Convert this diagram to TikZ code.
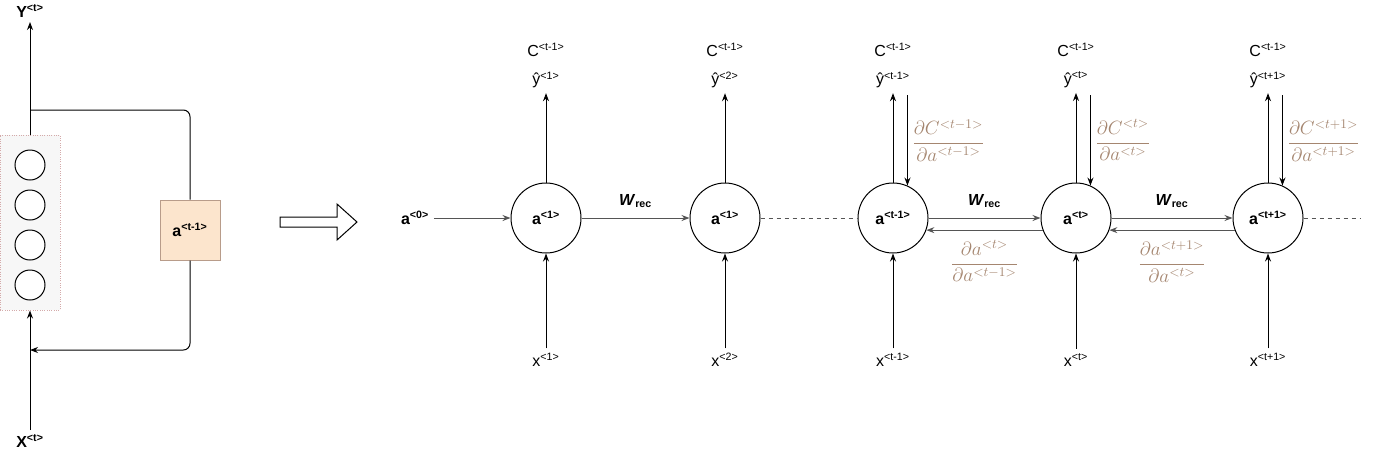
\documentclass[tikz,border=0pt]{standalone}
\usepackage{fontspec}
\setmainfont{Liberation Sans}
\usepackage{tikz}
\usetikzlibrary{arrows.meta}
\usepackage[dvipsnames]{xcolor}
\definecolor{gradtan}{HTML}{A58670}
\definecolor{cellfill}{HTML}{FCE5CD}
\definecolor{celledge}{HTML}{B89C8A}
\definecolor{stackfill}{HTML}{F7F7F7}
\definecolor{stackedge}{HTML}{D4AAAA}
\definecolor{linkgray}{HTML}{555555}

\begin{document}
\begin{tikzpicture}[x=0.75pt, y=-0.75pt, line width=0.75pt, >={Stealth[length=6pt, width=4.5pt]},
    every node/.style={font=\fontsize{12}{14}\selectfont},
    cell/.style={circle, draw, minimum size=52.5pt, inner sep=0pt},
    unit/.style={circle, draw, fill=white, minimum size=22.5pt, inner sep=0pt},
    grad/.style={text=gradtan, font=\fontsize{14}{16}\selectfont}]
      \useasboundingbox (0, 0) rectangle (1384, 451);

      % folded network
      \node (S) [rectangle, draw=stackedge, densely dotted, fill=stackfill,
        minimum width=45pt, minimum height=131.25pt] at (30, 222.5) {};
      \node (U1) [unit] at (30, 165) {};
      \node (U2) [unit] at (30, 205) {};
      \node (U3) [unit] at (30, 245) {};
      \node (U4) [unit] at (30, 285) {};
      \node (M) [rectangle, draw=celledge, fill=cellfill, minimum size=45pt] at (190, 230) {
        \textbf{a\textsuperscript{<t-1>}}
      };
      \node (Y) [anchor=south] at (30, 22) {\textbf{Y\textsuperscript{<t>}}};
      \node (X) [anchor=north] at (30, 430) {\textbf{X\textsuperscript{<t>}}};
      \coordinate (J1) at (30, 110);
      \coordinate (J2) at (30, 350);

      \draw[->] (S) to (Y);
      \draw[->] (X) to (S);
      \draw[rounded corners=5pt] (J1) -| (M);
      \draw[->, rounded corners=5pt] (M) |- (J2);

      % unfold
      \draw (280, 217) -- (337, 217) -- (337, 204) -- (357, 222) -- (337, 240) -- (337, 227) -- (280, 227) -- cycle;

      % unrolled network
      \node (A0) at (415, 218) {\textbf{a\textsuperscript{<0>}}};
      \node (A) [cell] at (546, 218) {\textbf{a\textsuperscript{<1>}}};
      \node (B) [cell] at (725, 218) {\textbf{a\textsuperscript{<1>}}};
      \node (C) [cell] at (893, 218) {\textbf{a\textsuperscript{<t-1>}}};
      \node (D) [cell] at (1076, 218) {\textbf{a\textsuperscript{<t>}}};
      \node (E) [cell] at (1268, 218) {\textbf{a\textsuperscript{<t+1>}}};
      \coordinate (Z) at (1360, 218);
      \coordinate (T) at (0, 95);

      \node (YA) at (546, 80) {ŷ\textsuperscript{<1>}};
      \node (YB) at (725, 80) {ŷ\textsuperscript{<2>}};
      \node (YC) at (893, 80) {ŷ\textsuperscript{<t-1>}};
      \node (YD) at (1076, 80) {ŷ\textsuperscript{<t>}};
      \node (YE) at (1268, 80) {ŷ\textsuperscript{<t+1>}};
      \node (CA) at (546, 50) {C\textsuperscript{<t-1>}};
      \node (CB) at (725, 50) {C\textsuperscript{<t-1>}};
      \node (CC) at (893, 50) {C\textsuperscript{<t-1>}};
      \node (CD) at (1076, 50) {C\textsuperscript{<t-1>}};
      \node (CE) at (1268, 50) {C\textsuperscript{<t-1>}};
      \node (XA) at (546, 360) {x\textsuperscript{<1>}};
      \node (XB) at (725, 360) {x\textsuperscript{<2>}};
      \node (XC) at (893, 360) {x\textsuperscript{<t-1>}};
      \node (XD) at (1076, 360) {x\textsuperscript{<t>}};
      \node (XE) at (1268, 360) {x\textsuperscript{<t+1>}};

      \draw[->] (A) to (YA);
      \draw[->] (B) to (YB);
      \draw[->] (C) to (YC);
      \draw[->] (D) to (YD);
      \draw[->] (E) to (YE);
      \draw[->] (XA) to (A);
      \draw[->] (XB) to (B);
      \draw[->] (XC) to (C);
      \draw[->] (XD) to (D);
      \draw[->] (XE) to (E);

      \draw[->] (C.66 |- T) to
        node [midway, right, grad] {$\displaystyle\frac{\partial C^{<t-1>}}{\partial a^{<t-1>}}$} (C.66);
      \draw[->] (D.66 |- T) to
        node [midway, right, grad] {$\displaystyle\frac{\partial C^{<t>}}{\partial a^{<t>}}$} (D.66);
      \draw[->] (E.66 |- T) to
        node [midway, right, grad] {$\displaystyle\frac{\partial C^{<t+1>}}{\partial a^{<t+1>}}$} (E.66);

      \draw[->, linkgray] (A0) to (A);
      \draw[->, linkgray] (A) to node [midway, above, yshift=4pt, black] {\textbf{\textit{W}\textsubscript{rec}}} (B);
      \draw[dashed, linkgray] (B) to (C);
      \draw[->, linkgray] (C) to node [midway, above, yshift=4pt, black] {\textbf{\textit{W}\textsubscript{rec}}} (D);
      \draw[->, linkgray] (D) to node [midway, above, yshift=4pt, black] {\textbf{\textit{W}\textsubscript{rec}}} (E);
      \draw[->, linkgray] (D.200) to
        node [midway, below, grad, yshift=-4pt] {$\displaystyle\frac{\partial a^{<t>}}{\partial a^{<t-1>}}$} (C.340);
      \draw[->, linkgray] (E.200) to
        node [midway, below, grad, yshift=-4pt] {$\displaystyle\frac{\partial a^{<t+1>}}{\partial a^{<t>}}$} (D.340);
      \draw[dashed, linkgray] (E) to (Z);
    \end{tikzpicture}
\end{document}
